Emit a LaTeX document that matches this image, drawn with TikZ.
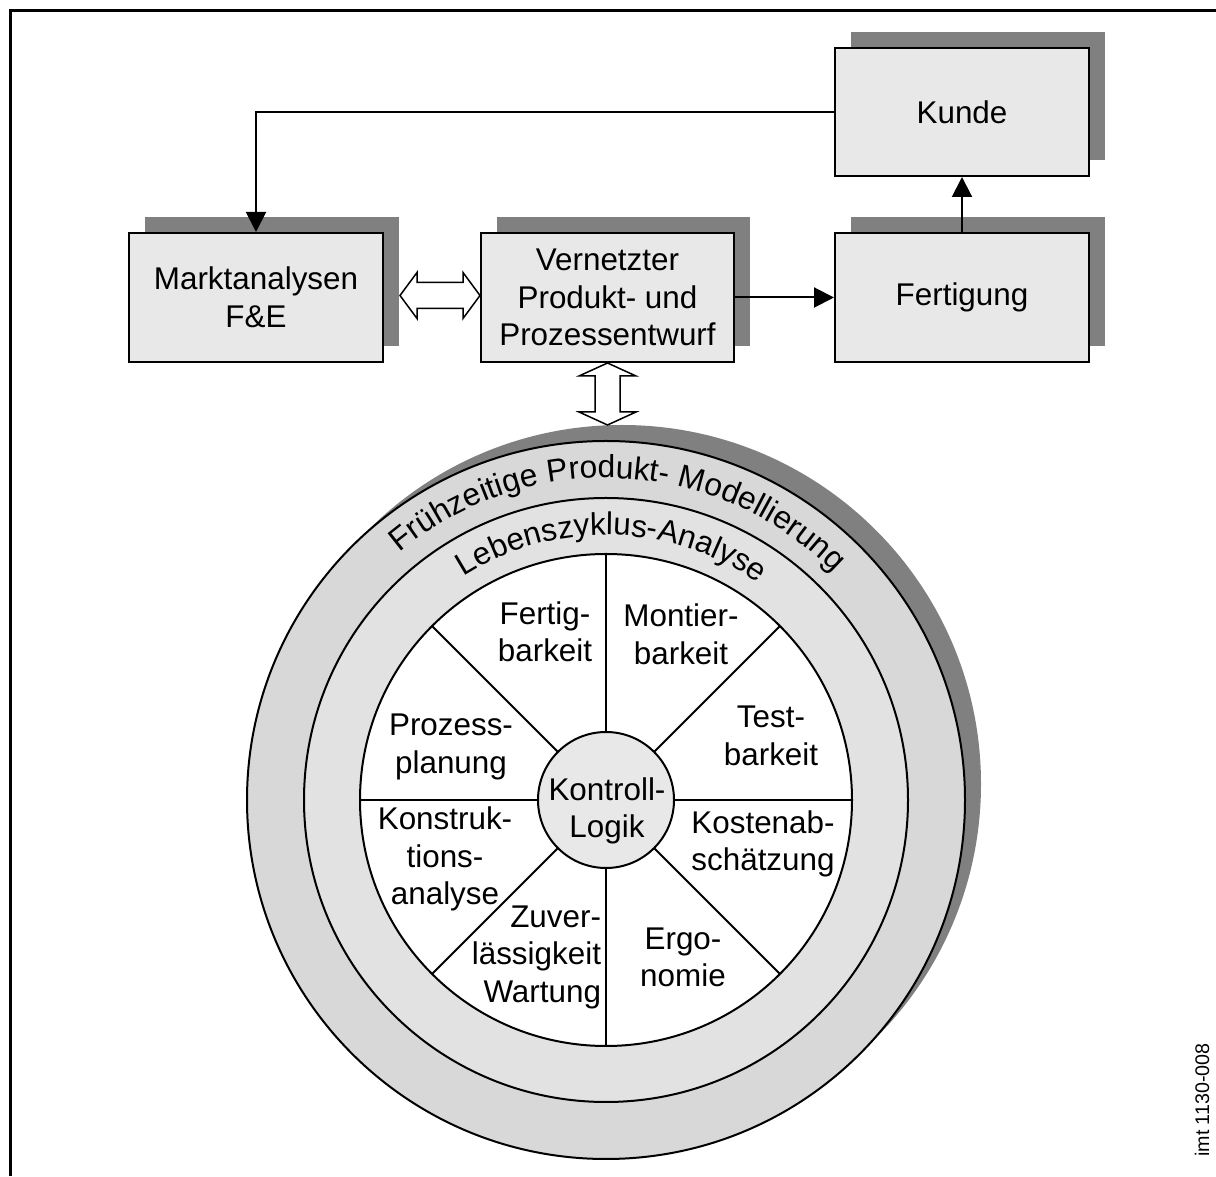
\documentclass[tikz,border=0pt]{standalone}
\usepackage{fontspec}
\setmainfont{Liberation Sans}
\usetikzlibrary{arrows.meta,calc,shadows,decorations.text}
\definecolor{boxgray}{RGB}{232,232,232}
\definecolor{shgray}{RGB}{128,128,128}
\definecolor{ringout}{RGB}{216,216,216}
\definecolor{ringin}{RGB}{226,226,226}
\newcommand\labfont{\fontsize{31.4}{37.5}\selectfont}
\newcommand\ringfont{\fontsize{31.8}{37.5}\selectfont}
\newcommand\imtfont{\fontsize{19.7}{22}\selectfont}
\begin{document}
\begin{tikzpicture}[x=1pt,y=1pt,line width=2pt,
  sh/.style={drop shadow={shadow xshift=16pt,shadow yshift=16pt,fill=shgray,opacity=1}},
  box/.style={draw,fill=boxgray,rectangle,minimum width=254pt,minimum height=129pt,inner sep=0pt,align=center,font=\labfont,sh},
  ring/.style={circle,draw,inner sep=0pt,outer sep=0pt},
  lab/.style={inner sep=0pt,align=center,font=\labfont},
  arr/.style={-{Triangle[length=20pt,width=20pt]}},
  hollow/.style={draw,fill=white,line width=1.5pt,line join=miter}]
\useasboundingbox (0,0) rectangle (1216,1176);
% frame
\draw[line width=3pt] (10.5,0) -- (10.5,1165.5) -- (1216,1165.5);
% boxes
\node[box] (m) at (256,878.5) {Marktanalysen\\F\&E};
\node[box,minimum width=253pt] (v) at (607.5,878.5) {Vernetzter\\Produkt- und\\Prozessentwurf};
\node[box] (f) at (962,878.5) {Fertigung};
\node[box,minimum height=128pt] (k) at (962,1064) {Kunde};
% connectors
\draw[arr] (k.west) -| (m.north);
\draw[arr] (v.east) -- (f.west);
\draw[arr] (f.north) -- (k.south);
% wheel
\coordinate (C) at (606,376);
\node[ring,fill=ringout,minimum size=718pt,sh] (o) at (C) {};
\node[ring,fill=ringin,minimum size=604pt] (b) at (C) {};
\node[ring,fill=white,minimum size=492pt] (w) at (C) {};
\node[ring,fill=boxgray,minimum size=136pt] (kl) at (C) {};
\foreach \a in {0,45,...,315} \draw (kl.\a) -- (w.\a);
% hollow double arrows
\coordinate (hl) at ($(m.east)+(16,2)$);
\coordinate (hr) at ($(v.west)+(0,2)$);
\draw[hollow] (hl) -- ++(17,23) -- ++(0,-10) -- ($(hr)+(-17,13)$) -- ++(0,10) -- (hr)
  -- ++(-17,-23) -- ++(0,10) -- ($(hl)+(17,-13)$) -- ++(0,-10) -- cycle;
\coordinate (vt) at (v.south);
\coordinate (vb) at ($(v.south |- o.north)+(0,16)$);
\draw[hollow] (vt) -- ++(28.5,-13) -- ++(-16,0) -- ($(vb)+(12.5,13)$) -- ++(16,0) -- (vb)
  -- ++(-28.5,13) -- ++(16,0) -- ($(vt)+(-12.5,-13)$) -- ++(-16,0) -- cycle;
% wheel labels
\node[lab] (l1) at (545,544) {Fertig-\\barkeit};
\node[lab] (l2) at (681,541.5) {Montier-\\barkeit};
\node[lab] (l3) at (771,440) {Test-\\barkeit};
\node[lab] (l4) at (763,332) {Kostenab-\\schätzung};
\node[lab] (l5) at (683,218.5) {Ergo-\\nomie};
\node[lab,align=right,anchor=east] (l6) at (602,219) {Zuver-\\lässigkeit\\Wartung};
\node[lab] (l7) at (445,317) {Konstruk-\\tions-\\analyse};
\node[lab] (l8) at (451,429) {Prozess-\\planung};
\node[lab] (l9) at (607,365) {Kontroll-\\Logik};
% ring texts
\path[decorate,decoration={text along path,text align=center,
  text={|\ringfont|Frühzeitige Produkt- Modellierung}}]
  ($(C)+(177.4:322)$) arc[start angle=177.4,end angle=-2.6,radius=322];
\path[decorate,decoration={text along path,text align=center,
  text={|\labfont|Lebenszyklus-Analyse}}]
  ($(C)+(178.7:265)$) arc[start angle=178.7,end angle=-1.3,radius=265];
% code
\node[inner sep=0pt,rotate=90,font=\imtfont] (imt) at (1202,76) {imt 1130-008};
\end{tikzpicture}
\end{document}
